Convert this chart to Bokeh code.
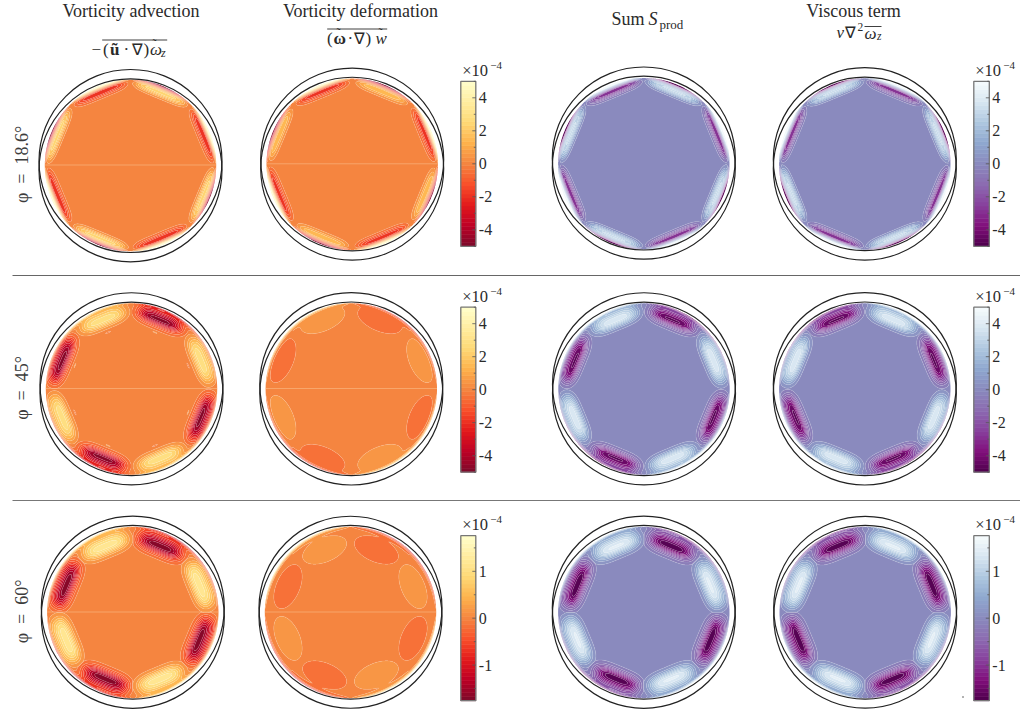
import numpy as np
from bokeh.plotting import figure
from bokeh.models import Range1d
from bokeh.core.properties import value
from bokeh.embed import file_html
from bokeh.resources import INLINE

# ---- chart values ----
ROW_LABELS = ["φ\u2002=\u200218.6°", "φ\u2002=\u200245°", "φ\u2002=\u200260°"]
COLOR_LIMITS = [5.0, 5.0, 1.76]
MAJOR_TICKS = [[4, 2, 0, -2, -4], [4, 2, 0, -2, -4], [1, 0, -1]]
MINOR_TICKS = [[3, 1, -1, -3, 5, -5], [3, 1, -1, -3, 5, -5], [1.5, 0.5, -0.5, -1.5]]
SECTOR_SIGN = [-1, 1, -1, 1, -1, 1, -1, 1]
PANEL_SIGN = [[1, 1, 1, -1], [-1, -1, -1, 1], [-1, -1, -1, 1]]
AMP_NEG = [[2.7, 2.6, 3.8, 3.8], [4.7, 0.55, 4.6, 4.6], [1.7, 0.14, 1.72, 1.72]]
AMP_POS = [[3.0, 2.2, 4.0, 4.0], [2.9, 0.55, 3.9, 3.9], [1.2, 0.14, 1.45, 1.45]]
RIDGE = [[0.93, 0.93, 0.93, 0.93], [0.87, 0.87, 0.87, 0.87], [0.835, 0.79, 0.835, 0.835]]
WIDTH_IN = [[0.055, 0.055, 0.055, 0.055], [0.074, 0.14, 0.074, 0.074], [0.088, 0.195, 0.088, 0.088]]
WIDTH_OUT = [[0.05, 0.05, 0.05, 0.05], [0.11, 0.14, 0.11, 0.11], [0.12, 0.195, 0.12, 0.12]]
HALF_LEN = [[0.32, 0.32, 0.32, 0.32], [0.265, 0.30, 0.265, 0.265], [0.265, 0.38, 0.265, 0.265]]
TAPER = [[6, 6, 6, 6], [4, 2, 4, 4], [4, 2, 4, 4]]
WALL_SECTOR = [[7, 7, 9, 9], [0, 0, 0, 0], [0, 0, 0, 0]]
WALL_QUAD = [[0, 0, 0, 0], [3, 3, 5, -5], [1.5, 1.5, 1.5, -1.5]]
WALL_DEPTH = [0.03, 0.012, 0.012]
SLIVER_AMP = [[0, 0, 0, 0], [0.35, 0, 0, 0], [0, 0, 0, 0]]
WARM_COLORS = ["#7a0a2a", "#bd0026", "#e31a1c", "#f9502a", "#f58540", "#feb24c", "#fed976", "#ffeda0", "#ffffcc"]
COOL_COLORS = ["#4d004b", "#810f7c", "#88419d", "#8c6bb1", "#8a8abe", "#8fa8cf", "#afc8e0", "#d8e6f1", "#f7fcfd"]

# ---- page layout (pixels of the 1020x713 page) ----
W, H = 1020, 713
CX = [[130, 351.7, 643.3, 864.3], [131, 350.8, 643.5, 864.3], [132.3, 350, 643.3, 864.7]]
CY_A = [[160.5, 159, 158, 158.7], [383.7] * 4, [607.2] * 4]
CY_B = [[169.8, 168.2, 167.2, 168.2], [393] * 4, [616.3] * 4]
CY_D = [[165, 163.8, 163.2, 163.5], [388.5] * 4, [612] * 4]
R_CIRCLE, R_DISC = 91.5, 85.7
BAR_X = [(460.3, 475.3), (973.3, 988.8)]
BAR_CY = [163.3, 389.2, 617.7]
BAR_HALF = 82.5
INK = "#2a2a2a"
SERIF = value("Liberation Serif")

p = figure(width=W, height=H, x_range=Range1d(0, W), y_range=Range1d(H, 0),
           output_backend="svg", toolbar_location=None, min_border=0,
           styles={"position": "absolute", "left": "0px", "top": "0px"})
p.axis.visible = False
p.xgrid.visible = False
p.ygrid.visible = False
p.outline_line_color = None
p.background_fill_color = "white"


def put(x, y, s, size=17, style="normal", align="left", angle=0.0, color=INK):
    p.text([x], [y], text=[s], text_font=SERIF, text_font_size=f"{size}px",
           text_font_style=style, text_align=align, text_baseline="middle",
           text_color=color, angle=angle)


def cmap(anchors, f):
    xs = np.linspace(-1, 1, len(anchors))
    rgb = np.array([[int(c[i:i + 2], 16) for i in (1, 3, 5)] for c in anchors], float)
    return "#%02x%02x%02x" % tuple(int(round(np.interp(f, xs, rgb[:, k]))) for k in range(3))


# polar grid, denser towards the wall
u = np.linspace(0, 1, 260)
rad = 1 - (1 - u) ** 2
tht = np.linspace(0, 2 * np.pi, 961)
TH, RR = np.meshgrid(tht, rad)


def field(i, j):
    sect = np.clip((TH / (np.pi / 4)).astype(int), 0, 7)
    dth = TH - (sect + 0.5) * np.pi / 4
    d, s = RR * np.cos(dth), RR * np.sin(dth)
    sign = np.array(SECTOR_SIGN)[sect] * PANEL_SIGN[i][j]
    amp = np.where(sign > 0, AMP_POS[i][j], AMP_NEG[i][j])
    wd = np.where(d < RIDGE[i][j], WIDTH_IN[i][j], WIDTH_OUT[i][j])
    z = sign * amp * np.exp(-((d - RIDGE[i][j]) / wd) ** 2) * np.exp(-np.abs(s / HALF_LEN[i][j]) ** TAPER[i][j])
    wall = np.exp(-(1 - RR) / WALL_DEPTH[i])
    z = z - WALL_SECTOR[i][j] * sign * np.abs(np.sin(4 * TH)) * wall
    z = z - WALL_QUAD[i][j] * np.sin(2 * TH) * wall
    z = z - SLIVER_AMP[i][j] * sign * np.exp(-((d - 0.715) / 0.012) ** 2) * np.exp(-(s / 0.07) ** 2)
    return z


for i in range(3):
    vmax = COLOR_LIMITS[i]
    levels = np.linspace(-vmax, vmax, 22)
    mids = 0.5 * (levels[:-1] + levels[1:])
    for j in range(4):
        anchors = WARM_COLORS if j < 2 else COOL_COLORS
        z = np.clip(field(i, j), -vmax * 0.9999, vmax * 0.9999)
        x = CX[i][j] + R_DISC * RR * np.cos(TH)
        y = CY_D[i][j] - R_DISC * RR * np.sin(TH)
        p.contour(x, y, z, levels,
                  fill_color=[cmap(anchors, m / vmax) for m in mids],
                  line_color="#ffffff", line_alpha=0.25, line_width=0.5)
        if j < 2:
            p.line([CX[i][j] - R_DISC, CX[i][j] + R_DISC], [CY_D[i][j] - 0.5] * 2,
                   line_color="#fbc89a", line_width=0.7, line_alpha=0.7)
        for cy in (CY_A[i][j], CY_B[i][j]):
            p.circle([CX[i][j]], [cy], radius=R_CIRCLE, fill_color=None,
                     line_color="#222222", line_width=1.2)

    # colour bars
    for k, (x0, x1) in enumerate(BAR_X):
        anchors = WARM_COLORS if k == 0 else COOL_COLORS
        edges = np.linspace(-vmax, vmax, 42)
        cy = BAR_CY[i]
        sc = BAR_HALF / vmax
        cols = [cmap(anchors, e / vmax) for e in 0.5 * (edges[1:] + edges[:-1])]
        p.quad(left=x0, right=x1, top=cy - edges[1:] * sc, bottom=cy - edges[:-1] * sc,
               fill_color=cols, line_color=cols, line_width=0.6)
        p.quad(left=[x0], right=[x1], top=[cy - BAR_HALF], bottom=[cy + BAR_HALF],
               fill_color=None, line_color="#777777", line_width=1.3)
        maj = np.array(MAJOR_TICKS[i], float)
        mnr = np.array(MINOR_TICKS[i], float)
        p.segment(x0=x1 - 3.5, x1=x1, y0=cy - maj * sc, y1=cy - maj * sc, line_color="#555555", line_width=0.8)
        p.segment(x0=x1 - 2, x1=x1, y0=cy - mnr * sc, y1=cy - mnr * sc, line_color="#555555", line_width=0.8)
        for t in MAJOR_TICKS[i]:
            put(x1 + 3, cy - t * sc, str(t), size=16)
        put(x0 + 1.5, cy - 93.5, "×10", size=16.5)
        put(x0 + 29.5, cy - 98.5, "−4", size=11)

    put(21, CY_D[i][0] - 1, ROW_LABELS[i], size=18, align="center", angle=np.pi / 2, color="#3c3c3c")

# separators
p.line([12, W], [275, 275], line_color="#666666", line_width=1)
p.line([12, W], [500, 500], line_color="#777777", line_width=1)
p.line([961.5, 963.5], [696.5, 696.5], line_color="#666666", line_width=1)

# column titles
put(130.5, 10.5, "Vorticity advection", align="center", size=18)
put(360, 10.5, "Vorticity deformation", align="center", size=18)
put(644, 18, "Sum", align="right", size=18)
put(648, 18, "S", style="italic", size=18)
put(659, 23.5, "prod", size=13)
put(853, 10.5, "Viscous term", align="center", size=18)

# -(u.grad)w_z
put(91, 49, "−", size=17)
put(102.5, 49, "(", size=17)
put(109.5, 49, "ũ", size=17, style="bold")
put(123, 49, "·", size=17)
put(131.5, 49, "∇", size=16)
put(143, 49, ")", size=17)
put(149.5, 49, "ω", size=17, style="italic")
put(152, 43.5, "˜", size=12)
put(160.5, 52, "z", size=12, style="italic")
p.line([101.7, 166.7], [39.5, 39.5], line_color=INK, line_width=0.9)

# (w.grad)w
put(326.5, 38, "(", size=17)
put(333, 38, "ω", size=17, style="bold")
put(336, 32.5, "˜", size=12)
put(347, 38, "·", size=17)
put(353.5, 38, "∇", size=16)
put(365, 38, ")", size=17)
put(375, 38, "w", size=17, style="italic")
put(378, 32.5, "˜", size=12)
p.line([326.7, 386.7], [28.5, 28.5], line_color=INK, line_width=0.9)

# viscous
put(836, 32, "ν", size=17, style="italic")
put(844.5, 32, "∇", size=16)
put(857, 26.5, "2", size=11.5)
put(864, 33, "ω", size=17, style="italic")
put(876.5, 35.5, "z", size=11.5, style="italic")
p.line([864, 881], [26, 26], line_color=INK, line_width=0.9)

open("out.html", "w").write(file_html(p, INLINE))
